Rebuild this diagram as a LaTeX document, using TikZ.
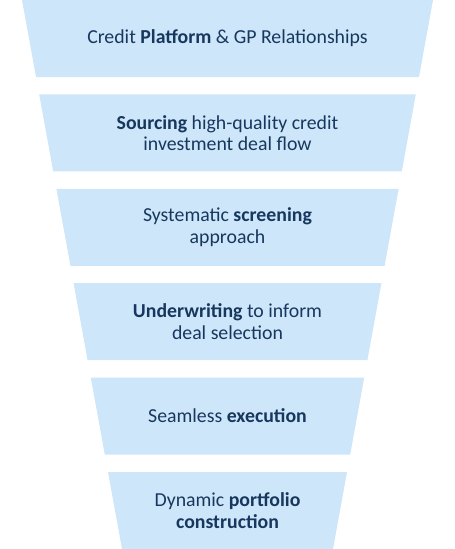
\documentclass[tikz,border=0pt]{standalone}
\usepackage{fontspec}
\setmainfont{Carlito}
\definecolor{funnelblue}{RGB}{205,230,249}
\definecolor{funneltext}{RGB}{23,55,94}
\tikzset{
  stage/.style={align=center, text=funneltext, font=\fontsize{19.8}{21.5}\selectfont, inner sep=0pt},
  layer/.style={fill=funnelblue}
}
\begin{document}
\begin{tikzpicture}[x=1pt,y=-1pt]
\useasboundingbox (0,0) rectangle (455,549);
\fill[layer] (22,0) -- (433,0) -- (419,77) -- (36,77) -- cycle;
\fill[layer] (39.2,94.4) -- (415.8,94.4) -- (401.8,171.4) -- (53.2,171.4) -- cycle;
\fill[layer] (56.4,188.8) -- (398.6,188.8) -- (384.6,265.8) -- (70.4,265.8) -- cycle;
\fill[layer] (73.6,283.2) -- (381.4,283.2) -- (367.4,360.2) -- (87.6,360.2) -- cycle;
\fill[layer] (90.8,377.6) -- (364.2,377.6) -- (350.2,454.6) -- (104.8,454.6) -- cycle;
\fill[layer] (108,472) -- (347,472) -- (333,549) -- (122,549) -- cycle;
\node[stage] (platform) at (227.5,38.5) {Credit \textbf{Platform} \& GP Relationships};
\node[stage] (sourcing) at (227.5,132.9) {\textbf{Sourcing} high-quality credit\\investment deal flow};
\node[stage] (screening) at (227.5,227.3) {Systematic \textbf{screening}\\approach};
\node[stage] (underwriting) at (227.5,321.7) {\textbf{Underwriting} to inform\\deal selection};
\node[stage] (execution) at (227.5,416.1) {Seamless \textbf{execution}};
\node[stage] (portfolio) at (227.5,510.5) {Dynamic \textbf{portfolio}\\\textbf{construction}};
\end{tikzpicture}
\end{document}
